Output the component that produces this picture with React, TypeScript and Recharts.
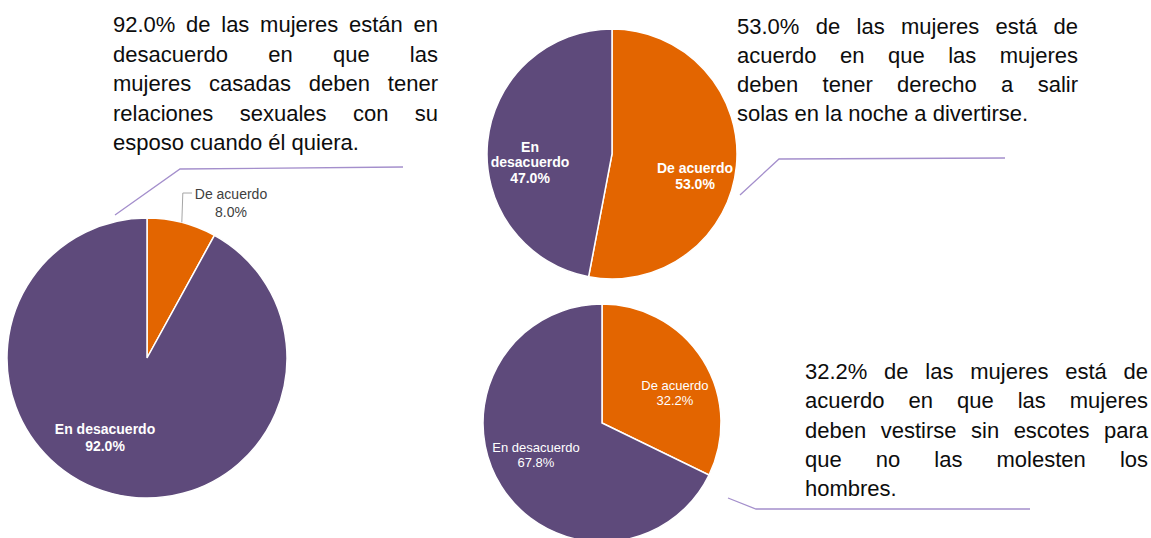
import { Cell, Pie, PieChart } from "recharts";

// Categorías y valores (%) de cada pregunta
const CATEGORIAS = ["De acuerdo", "En desacuerdo"];
const COLORES = ["#E36500", "#5E4A7B"];
const CASADAS = [8.0, 92.0];
const SALIR_NOCHE = [53.0, 47.0];
const ESCOTES = [32.2, 67.8];

const TEXTO_CASADAS = [
  "92.0% de las mujeres están en",
  "desacuerdo en que las",
  "mujeres casadas deben tener",
  "relaciones sexuales con su",
  "esposo cuando él quiera.",
];
const TEXTO_SALIR = [
  "53.0% de las mujeres está de",
  "acuerdo en que las mujeres",
  "deben tener derecho a salir",
  "solas en la noche a divertirse.",
];
const TEXTO_ESCOTES = [
  "32.2% de las mujeres está de",
  "acuerdo en que las mujeres",
  "deben vestirse sin escotes para",
  "que no las molesten los",
  "hombres.",
];

const FONT = '"Liberation Sans", Arial, sans-serif';
const RAD = Math.PI / 180;

const toData = (vals: number[]) => CATEGORIAS.map((name, i) => ({ name, value: vals[i] }));

type LabelSpec = {
  dx: number; // relativo al radio
  dy: number;
  wrap?: boolean;
  bold?: boolean;
  size: number;
  gap: number;
  fill: string;
  leader?: boolean;
};

function makeLabel(specs: LabelSpec[]) {
  return (props: any) => {
    const { cx, cy, outerRadius, midAngle, name, value, index } = props;
    const s = specs[index];
    const x = cx + s.dx * outerRadius;
    const y = cy + s.dy * outerRadius;
    const words = s.wrap ? name.split(" ") : [name];
    const lines = [...words, `${Number(value).toFixed(1)}%`];
    const y0 = y - ((lines.length - 1) * s.gap) / 2;
    let leader = null;
    if (s.leader) {
      const ex = cx + outerRadius * Math.cos(-midAngle * RAD);
      const ey = cy + outerRadius * Math.sin(-midAngle * RAD);
      const ly = y0 - 1;
      leader = (
        <polyline
          points={`${ex},${ey} ${ex + 1},${ly} ${x - 39},${ly}`}
          fill="none"
          stroke="#a6a6a6"
          strokeWidth={1}
        />
      );
    }
    return (
      <g>
        {leader}
        {lines.map((t, i) => (
          <text
            key={i}
            x={x}
            y={y0 + i * s.gap}
            textAnchor="middle"
            dominantBaseline="central"
            fill={s.fill}
            fontSize={s.size}
            fontWeight={s.bold ? 700 : 400}
            fontFamily={FONT}
          >
            {t}
          </text>
        ))}
      </g>
    );
  };
}

const labelCasadas = makeLabel([
  { dx: 0.6, dy: -1.107, size: 14, gap: 18, fill: "#404040", leader: true },
  { dx: -0.3, dy: 0.571, size: 14, gap: 17, fill: "#ffffff", bold: true },
]);
const labelSalir = makeLabel([
  { dx: 0.664, dy: 0.172, size: 14, gap: 16, fill: "#ffffff", bold: true },
  { dx: -0.656, dy: 0.064, size: 14, gap: 15.5, fill: "#ffffff", bold: true, wrap: true },
]);
const labelEscotes = makeLabel([
  { dx: 0.613, dy: -0.256, size: 13, gap: 15, fill: "#ffffff" },
  { dx: -0.555, dy: 0.265, size: 13, gap: 15, fill: "#ffffff" },
]);

function Bloque({ lines, left, top, width, lh }: { lines: string[]; left: number; top: number; width: number; lh: number }) {
  return (
    <div style={{ position: "absolute", left, top, width, fontFamily: FONT, fontSize: 22, lineHeight: `${lh}px`, color: "#0d0d0d" }}>
      {lines.map((l, i) => (
        <div
          key={i}
          style={{
            whiteSpace: "nowrap",
            textAlign: "justify",
            textAlignLast: i === lines.length - 1 ? "left" : "justify",
          }}
        >
          {l}
        </div>
      ))}
    </div>
  );
}

export default function App() {
  return (
    <div style={{ position: "absolute", left: 0, top: 0, width: 1151, height: 538, background: "#fff", overflow: "hidden" }}>
      <PieChart
        width={1151}
        height={538}
        margin={{ top: 0, right: 0, bottom: 0, left: 0 }}
        style={{ position: "absolute", left: 0, top: 0 }}
      >
        <Pie
          data={toData(CASADAS)}
          dataKey="value"
          nameKey="name"
          cx={147}
          cy={358}
          outerRadius={140}
          startAngle={90}
          endAngle={-270}
          stroke="#ffffff"
          strokeWidth={1.5}
          labelLine={false}
          label={labelCasadas}
          isAnimationActive={false}
        >
          {CATEGORIAS.map((c, i) => (
            <Cell key={c} fill={COLORES[i]} />
          ))}
        </Pie>
        <Pie
          data={toData(SALIR_NOCHE)}
          dataKey="value"
          nameKey="name"
          cx={612}
          cy={154}
          outerRadius={125}
          startAngle={90}
          endAngle={-270}
          stroke="#ffffff"
          strokeWidth={1.5}
          labelLine={false}
          label={labelSalir}
          isAnimationActive={false}
        >
          {CATEGORIAS.map((c, i) => (
            <Cell key={c} fill={COLORES[i]} />
          ))}
        </Pie>
        <Pie
          data={toData(ESCOTES)}
          dataKey="value"
          nameKey="name"
          cx={602}
          cy={423}
          outerRadius={119}
          startAngle={90}
          endAngle={-270}
          stroke="#ffffff"
          strokeWidth={1.5}
          labelLine={false}
          label={labelEscotes}
          isAnimationActive={false}
        >
          {CATEGORIAS.map((c, i) => (
            <Cell key={c} fill={COLORES[i]} />
          ))}
        </Pie>
      </PieChart>

      {/* líneas de llamada hacia los textos */}
      <svg width={1151} height={538} style={{ position: "absolute", left: 0, top: 0, pointerEvents: "none" }}>
        <g fill="none" stroke="#a48fcc" strokeWidth={1.3}>
          <polyline points="115,215 180,169 403,167" />
          <polyline points="740,195 779,159 1005,158" />
          <polyline points="728,498 756,509 1030,509" />
        </g>
      </svg>

      <Bloque lines={TEXTO_CASADAS} left={113} top={10} width={325} lh={29.5} />
      <Bloque lines={TEXTO_SALIR} left={737} top={12} width={341} lh={29} />
      <Bloque lines={TEXTO_ESCOTES} left={805} top={357} width={343} lh={29.3} />
    </div>
  );
}
